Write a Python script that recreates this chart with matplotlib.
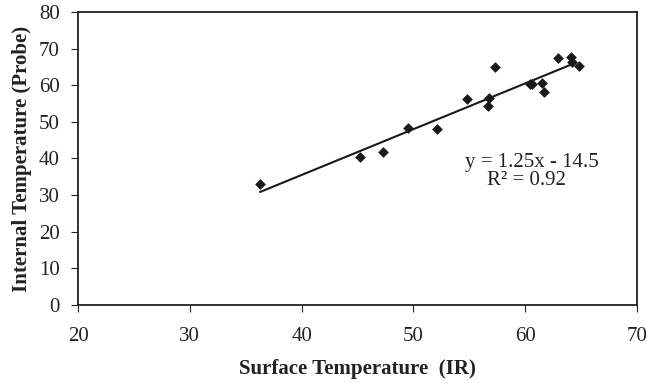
import numpy as np
import matplotlib
matplotlib.use('Agg')
import matplotlib.pyplot as plt

# surface (IR) vs internal (probe) temperatures
surface_ir = [36.3, 45.2, 47.3, 49.5, 52.1, 54.8, 56.7, 56.8, 57.3,
              60.4, 60.6, 61.5, 61.7, 62.9, 64.1, 64.2, 64.8]
internal_probe = [33.0, 40.3, 41.8, 48.2, 48.1, 56.2, 54.2, 56.6, 65.1,
                  60.3, 60.4, 60.6, 58.1, 67.5, 67.7, 66.4, 65.3]

slope = 1.25
intercept = -14.5
r_squared = 0.92

x_ticks = [20, 30, 40, 50, 60, 70]
y_ticks = [0, 10, 20, 30, 40, 50, 60, 70, 80]

plt.rcParams['font.family'] = ['Liberation Serif', 'DejaVu Serif']

fig = plt.figure(figsize=(6.47, 3.83), dpi=100)
ax = fig.add_axes([0.1206, 0.2037, 0.8639, 0.765])

ax.scatter(surface_ir, internal_probe, marker='D', s=30, color='#1a1a1a', zorder=3, linewidths=0)

xf = np.array([min(surface_ir), max(surface_ir) - 0.5])
ax.plot(xf, slope * xf + intercept, color='#1a1a1a', lw=1.5, zorder=2)

ax.text(0.812, 0.485, 'y = 1.25x - 14.5', transform=ax.transAxes, ha='center', va='center', fontsize=15, color='#222222')
ax.text(0.803, 0.425, 'R² = %.2f' % r_squared, transform=ax.transAxes, ha='center', va='center', fontsize=15, color='#222222')

ax.set_xlim(20, 70)
ax.set_ylim(0, 80)
ax.set_xticks(x_ticks)
ax.set_yticks(y_ticks)
ax.tick_params(direction='out', length=5, width=0.8, labelsize=15, colors='#222222')
ax.tick_params(axis='x', pad=11)
ax.tick_params(axis='y', pad=8)

for s in ax.spines.values():
    s.set_linewidth(1.3)
    s.set_color('#222222')

ax.set_xlabel('Surface Temperature  (IR)', fontsize=15, fontweight='bold', color='#222222', labelpad=9)
ax.set_ylabel('Internal Temperature (Probe)', fontsize=15, fontweight='bold', color='#222222', labelpad=5)

fig.savefig('out.png', dpi=100)
